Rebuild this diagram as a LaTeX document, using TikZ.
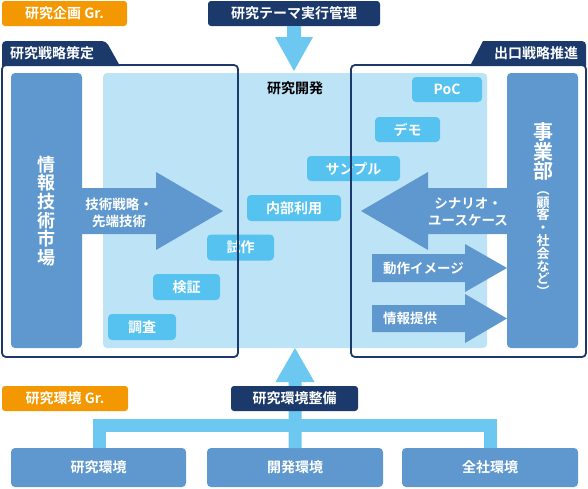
\documentclass[tikz,border=0pt]{standalone}
\usepackage{fontspec}
\setmainfont{Noto Sans CJK JP}[BoldFont={* Bold}]
\definecolor{cOrange}{HTML}{F39800}
\definecolor{cNavy}{HTML}{1B3A6B}
\definecolor{cMid}{HTML}{5E98CE}
\definecolor{cLight}{HTML}{BDE3F7}
\definecolor{cPill}{HTML}{56C2F0}
\definecolor{cConn}{HTML}{6CC7F1}
\begin{document}
\begin{tikzpicture}[x=1pt,y=-1pt,
  every node/.style={inner sep=0pt, outer sep=0pt},
  lbl/.style={text=white, font=\bfseries\fontsize{14}{16}\selectfont},
  orangebox/.style={lbl, fill=cOrange, rounded corners=3pt, minimum height=25pt},
  navybox/.style={lbl, fill=cNavy, rounded corners=3pt, minimum height=25pt},
  pill/.style={lbl, fill=cPill, rounded corners=4pt, minimum height=26pt},
  midbox/.style={lbl, fill=cMid, rounded corners=4pt},
  envbox/.style={midbox, minimum height=39pt, minimum width=176pt},
  frame/.style={draw=cNavy, line width=1.8pt, rounded corners=4pt},
  conn/.style={draw=cConn, line width=13pt},
  arrowtext/.style={lbl, align=center, font=\bfseries\fontsize{13.5}{17}\selectfont},
]
\useasboundingbox (0,0) rectangle (588,488);

% light research area
\node[fill=cLight, rounded corners=4pt, minimum width=384pt, minimum height=275pt, anchor=north west] (rd) at (103,73) {};
\node[font=\bfseries\fontsize{14}{16}\selectfont, text=black] (rdl) at (295,88) {研究開発};

% side bars
\node[midbox, minimum width=71pt, minimum height=275pt] (lbar) at (46.5,210.5) {};
\node[lbl, align=center, font=\bfseries\fontsize{18}{18.7}\selectfont] (lbart) at (46.5,211) {情\\報\\技\\術\\市\\場};
\node[midbox, minimum width=71pt, minimum height=275pt] (rbar) at (542.5,210.5) {};
\node[lbl, align=center, font=\bfseries\fontsize{20}{19.5}\selectfont] (rbart) at (543,151.5) {事\\業\\部};
\node[lbl, align=center, font=\bfseries\fontsize{13}{12.8}\selectfont] (rbarp) at (543,244) {︵\\顧\\客\\・\\社\\会\\な\\ど\\︶};

% pills
\node[pill, minimum width=70pt, minimum height=25pt] (poc) at (447,89.5) {PoC};
\node[pill, minimum width=65pt, minimum height=25pt] (demo) at (407.5,129.5) {デモ};
\node[pill, minimum width=93pt, minimum height=25pt] (sample) at (353.5,168.5) {サンプル};
\node[pill, minimum width=94pt] (naibu) at (294,208) {内部利用};
\node[pill, minimum width=67pt] (shisaku) at (240.5,247.5) {試作};
\node[pill, minimum width=67pt] (kensho) at (186.5,287) {検証};
\node[pill, minimum width=68pt] (chosa) at (142,327) {調査};

% big arrows
\fill[cMid] (lbar.east |- 0,188) -- (156,188) -- (156,172) -- (223,211) -- (156,250) -- (156,234) -- (lbar.east |- 0,234) -- cycle;
\node[arrowtext] (gijutsu) at (119,212.5) {技術戦略・\\先端技術};
\fill[cMid] (rbar.west |- 0,188) -- (428,188) -- (428,172) -- (361,211) -- (428,250) -- (428,234) -- (rbar.west |- 0,234) -- cycle;
\node[arrowtext] (scenario) at (468,211.5) {シナリオ・\\ユースケース};
\fill[cMid] (372,254) -- (465,254) -- (465,244) -- (rbar.west |- 0,268) -- (465,292) -- (465,282) -- (372,282) -- cycle;
\node[lbl, anchor=west, font=\bfseries\fontsize{13.5}{16}\selectfont] (dosa) at (383,268) {動作イメージ};
\fill[cMid] (372,305) -- (465,305) -- (465,294) -- (rbar.west |- 0,318.5) -- (465,343) -- (465,332) -- (372,332) -- cycle;
\node[lbl, anchor=west, font=\bfseries\fontsize{13.5}{16}\selectfont] (joho) at (383,318.5) {情報提供};

% tabs and frames
\fill[cNavy] (2,66) [rounded corners=4pt] -- (2,41) -- (106,41) [sharp corners] -- (120,66) -- cycle;
\node[lbl] (senryaku) at (52,53.5) {研究戦略策定};
\fill[cNavy] (470,66) -- (483,41) [rounded corners=4pt] -- (586,41) [sharp corners] -- (586,66) -- cycle;
\node[lbl] (deguchi) at (536,53.5) {出口戦略推進};
\draw[frame] (2,65) rectangle (238,357);
\draw[frame] (351,65) rectangle (586,357);

% top
\node[orangebox, minimum width=125pt] (kikaku) at (64.5,13.5) {研究企画 Gr.};
\node[navybox, minimum width=172pt] (kanri) at (294,13.5) {研究テーマ実行管理};
\fill[cConn] (kanri.south) ++(-7,0) -- ++(0,11) -- ++(-12,0) -- ++(19,34) -- ++(19,-34) -- ++(-12,0) -- ++(0,-11) -- cycle;

% bottom
\node[envbox, minimum width=175pt] (kk) at (98.5,467.5) {研究環境};
\node[envbox] (kh) at (295,467.5) {開発環境};
\node[envbox] (zs) at (490,467.5) {全社環境};
\draw[conn] ([xshift=1pt]kk.north) -- ++(0,-22.5) -| (zs.north);
\fill[cConn] (kh.north) ++(-6.5,0) -- ++(0,-66) -- ++(-13,0) -- ++(19.5,-34) -- ++(19.5,34) -- ++(-13,0) -- ++(0,66) -- cycle;
\node[orangebox, minimum width=126pt] (kankyogr) at (65,398.5) {研究環境 Gr.};
\node[navybox, minimum width=127pt] (seibi) at (294.5,398.5) {研究環境整備};
\end{tikzpicture}
\end{document}
